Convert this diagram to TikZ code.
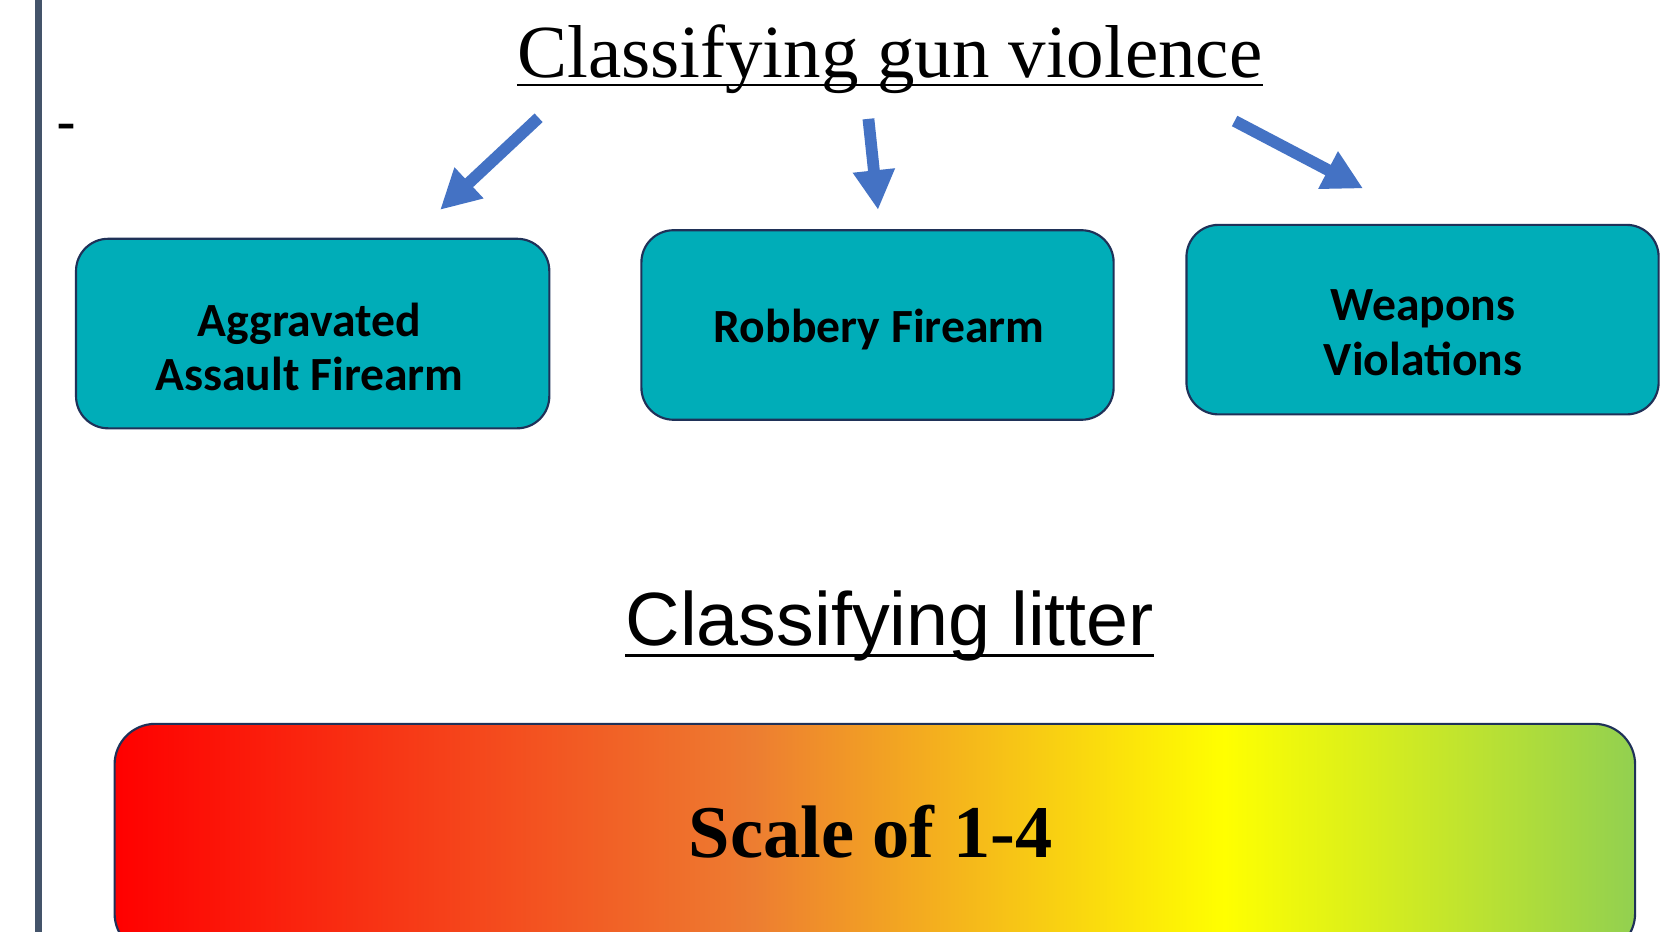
\documentclass[tikz,border=0pt]{standalone}
\usepackage{fontspec}
\setmainfont{Liberation Serif}
\newfontfamily\arialf{Liberation Sans}
\newfontfamily\calf{Carlito}
\usetikzlibrary{arrows.meta}
\definecolor{teal1}{HTML}{00ADB8}
\definecolor{navy1}{HTML}{1F3158}
\definecolor{blue1}{HTML}{4472C4}
\definecolor{slate1}{HTML}{44546A}
\definecolor{orng}{HTML}{ED7D31}
\definecolor{grn}{HTML}{92D050}
\pgfdeclarehorizontalshading{litter}{100bp}{color(0bp)=(red); color(25bp)=(red); color(46bp)=(orng); color(61.5bp)=(yellow); color(75bp)=(grn); color(100bp)=(grn)}
\begin{document}
\begin{tikzpicture}[x=1pt,y=-1pt,
  catbox/.style={draw=navy1, line width=2pt, fill=teal1, rounded corners=30pt,
    minimum width=441pt, minimum height=177pt, inner sep=0pt},
  cattext/.style={font=\calf\bfseries\fontsize{44.5}{51}\selectfont, align=center,
    text=black, inner sep=0pt},
  blockarrow/.style={draw=blue1, line width=11pt, -{Triangle[length=37pt,width=37pt]}},
  plaintext/.style={inner sep=0pt, anchor=base},
]
\useasboundingbox (0,0) rectangle (1568,870);
\fill[white] (0,0) rectangle (1568,870);

% left rule
\fill[slate1] (33,0) rectangle (39,870);

% dash
\node (dash) [plaintext, font=\arialf\fontsize{56}{64}\selectfont] at (62,133) {-};

% title
\node (title) [plaintext, font=\fontsize{70}{84}\selectfont] at (831,72) {Classifying gun violence};
\draw[line width=2pt] ([yshift=-7pt]title.base west) -- ([yshift=-7pt]title.base east);

% category boxes
\node (b1) [catbox, minimum width=442pt] at (292,311.5) {};
\node (b2) [catbox] at (819.5,303.5) {};
\node (b3) [catbox] at (1328.5,298.5) {};
\node (t1) [cattext] at (289,324) {Aggravated\\Assault Firearm};
\node (t2) [cattext, anchor=base] at (821,320) {Robbery Firearm};
\node (t3) [cattext] at (1329,311) {Weapons\\Violations};

% arrows
\coordinate (a1s) at (503,110); \coordinate (a1e) at (411,196);
\coordinate (a2s) at (811,111); \coordinate (a2e) at (820,196);
\coordinate (a3s) at (1153,113); \coordinate (a3e) at (1273,176);
\draw[blockarrow] (a1s) -- (a1e);
\draw[blockarrow] (a2s) -- (a2e);
\draw[blockarrow] (a3s) -- (a3e);

% litter title
\node (litter) [plaintext, font=\arialf\fontsize{70.5}{84}\selectfont] at (831,603) {Classifying litter};
\draw[line width=2.2pt] ([yshift=-9pt]litter.base west) -- ([yshift=-9pt]litter.base east);

% scale bar
\node (bar) [draw=navy1, line width=2pt, rounded corners=38pt, shade, shading=litter,
  minimum width=1420pt, minimum height=215pt, inner sep=0pt, anchor=north] at (817,675) {};
\node (scaletxt) [plaintext, font=\bfseries\fontsize{69.5}{80}\selectfont] at (813,801) {Scale of 1-4};
\end{tikzpicture}
\end{document}
